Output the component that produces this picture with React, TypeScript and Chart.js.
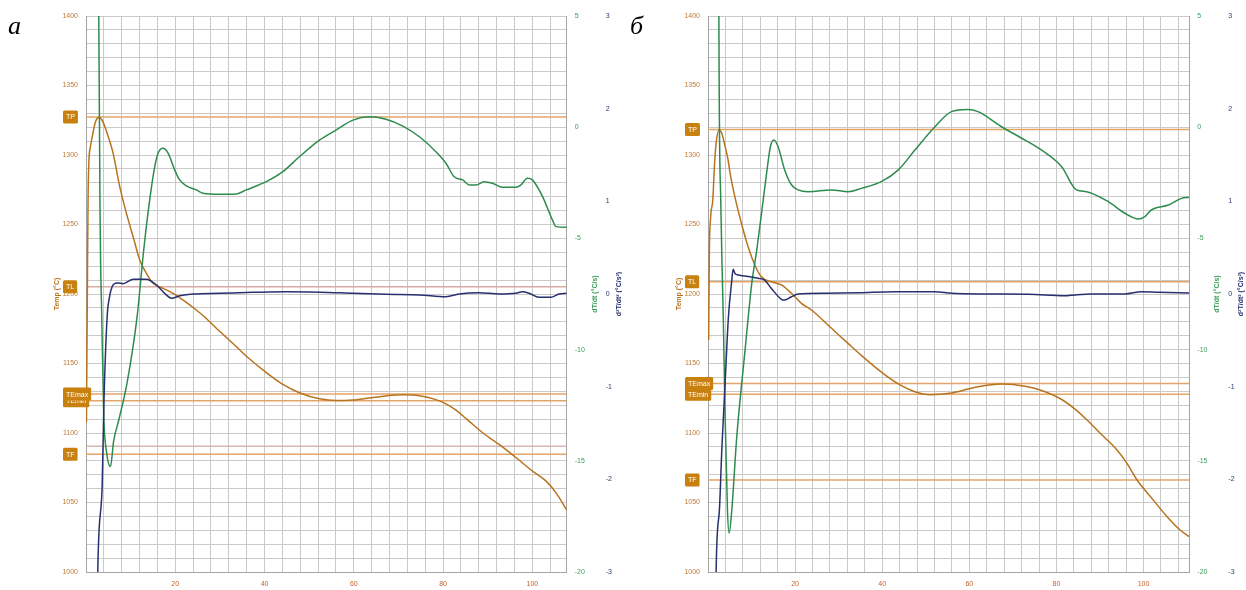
import React, { useEffect, useRef } from 'react';
import { Chart, registerables } from 'chart.js';

Chart.register(...registerables);

// ---------------- Panel "а" data ----------------
const A_TEMP_T = [0.1, 0.3, 0.45, 0.63, 1.0, 1.39, 2.13, 2.86, 3.62, 4.74, 6.08, 7.56, 9.06, 10.56, 12.04, 13.53, 15.03, 17.27, 19.5, 21.7, 24.7, 26.2, 30.0, 33.7, 36.0, 40.4, 44.1, 47.8, 52.3, 56.0, 59.8, 63.5, 67.2, 71.0, 74.7, 78.4, 80.65, 82.5, 85.3, 89.0, 92.7, 96.1, 100.2, 103.2, 105.4, 107.7];
const A_TEMP = [1108, 1200, 1265, 1294, 1306, 1313, 1324, 1327, 1325, 1315.6, 1301.2, 1277.2, 1258, 1241.2, 1224.5, 1214.9, 1207.7, 1204.1, 1200.5, 1195.7, 1188.5, 1184.5, 1173, 1162, 1155, 1143.5, 1135, 1129, 1124.6, 1123.3, 1123.7, 1125.2, 1126.7, 1127.5, 1126.8, 1124, 1121, 1117.3, 1110, 1099.8, 1091.4, 1082.9, 1072.2, 1065, 1056.6, 1044.6];
const A_DT_T = [2.6, 2.86, 3.24, 3.5, 3.98, 4.6, 5.48, 6.2, 7.3, 9.2, 11.45, 12.93, 14.27, 15.39, 16.15, 17.27, 18.39, 19.87, 20.98, 22.48, 24.72, 26.2, 29.93, 33.67, 35.9, 40.38, 44.1, 47.8, 52.3, 56.0, 59.8, 63.5, 67.2, 71.0, 74.7, 78.4, 80.65, 82.5, 84.4, 85.9, 87.4, 89.2, 91.1, 93.3, 96.3, 97.4, 98.9, 100.0, 102.3, 104.5, 105.3, 107.7];
const A_DT = [30, 5, -5.5, -8.2, -13.0, -14.6, -15.26, -14.1, -13.2, -11.5, -8.52, -5.52, -3.27, -1.78, -1.17, -0.95, -1.17, -1.92, -2.37, -2.64, -2.82, -2.97, -3.02, -3.0, -2.82, -2.45, -2.0, -1.33, -0.58, -0.13, 0.32, 0.47, 0.36, 0.05, -0.43, -1.1, -1.62, -2.23, -2.37, -2.6, -2.6, -2.45, -2.52, -2.7, -2.7, -2.6, -2.3, -2.37, -3.12, -4.17, -4.47, -4.5];
const A_D2_T = [2.0, 2.64, 3.62, 4.0, 4.74, 5.2, 5.86, 6.6, 7.2, 8.3, 10.6, 13.5, 15.8, 18.0, 19.1, 21.0, 24.0, 29.9, 37.4, 44.9, 52.3, 59.8, 67.2, 74.7, 80.65, 83.6, 88.1, 92.6, 96.3, 97.8, 99.3, 101.5, 104.1, 106.0, 107.7];
const A_D2 = [-6, -2.98, -2.08, -1.2, -0.245, -0.05, 0.08, 0.116, 0.12, 0.11, 0.16, 0.16, 0.097, -0.01, -0.046, -0.02, 0, 0.008, 0.018, 0.025, 0.02, 0.008, -0.003, -0.01, -0.03, 0, 0.014, 0, 0.008, 0.025, 0.008, -0.035, -0.035, 0, 0.008];
const A_REF_LABELS = ['TP', 'TL', 'TEmin', 'TEmax', 'TF'];
const A_REF_VALUES = [1327.3, 1205.3, 1123.2, 1128.0, 1084.7];
const A_AUX_VALUES = [1090.6];

// ---------------- Panel "б" data ----------------
const B_TEMP_T = [0.15, 0.3, 0.6, 1.1, 1.47, 1.86, 2.55, 3.17, 3.93, 4.62, 5.08, 6.16, 7.67, 9.21, 10.75, 12.26, 14.56, 16.86, 19.15, 21.45, 23.75, 28.3, 32.2, 35.2, 39.8, 43.7, 47.5, 51.0, 55.9, 59.7, 62.0, 67.4, 72.8, 76.6, 81.2, 84.6, 86.9, 90.05, 93.9, 96.2, 98.5, 101.6, 105.4, 108.4, 110.5];
const B_TEMP = [1167, 1228, 1255, 1267.6, 1291.6, 1308.4, 1318, 1315.6, 1306, 1296.4, 1286.8, 1270, 1250.9, 1234, 1220.9, 1212.4, 1208.8, 1206.5, 1200.5, 1193.3, 1188.5, 1175.5, 1164.3, 1155.8, 1143.8, 1135.3, 1129.7, 1127.6, 1128.8, 1131.6, 1133.3, 1135.2, 1133.7, 1130.6, 1124.1, 1116.3, 1109.7, 1099.8, 1087.8, 1078.2, 1066.2, 1054.2, 1039.8, 1030.2, 1025.4];
const B_DT_T = [2.35, 2.5, 2.9, 3.2, 3.5, 3.93, 4.46, 4.85, 5.47, 6.61, 8.52, 10.06, 11.2, 12.4, 13.5, 14.3, 15.1, 16.1, 17.6, 19.2, 20.7, 23.0, 28.3, 32.2, 35.2, 39.8, 43.7, 47.5, 52.1, 55.9, 59.7, 62.0, 67.4, 72.8, 76.6, 81.2, 84.6, 86.9, 91.9, 95.7, 98.8, 100.3, 101.8, 105.7, 108.7, 110.5];
const B_DT = [30, 5, -3, -6, -8.5, -13, -17.2, -18.25, -17.2, -13.9, -10.0, -7.0, -5.52, -3.7, -2.0, -0.9, -0.58, -0.88, -1.92, -2.6, -2.82, -2.9, -2.82, -2.9, -2.75, -2.45, -1.92, -1.03, 0.02, 0.7, 0.8, 0.7, 0.02, -0.58, -1.03, -1.78, -2.82, -2.9, -3.35, -3.87, -4.13, -4.02, -3.72, -3.5, -3.2, -3.15];
const B_D2_T = [1.5, 1.86, 2.62, 3.17, 3.93, 4.69, 5.47, 5.77, 6.2, 6.91, 9.21, 11.5, 13.0, 14.56, 16.86, 17.6, 19.15, 20.7, 26.8, 34.5, 42.9, 52.1, 55.9, 63.6, 73.5, 81.9, 84.2, 88.1, 95.7, 99.5, 103.4, 110.5];
const B_D2 = [-5, -3, -2.33, -1.68, -0.96, -0.245, 0.15, 0.267, 0.22, 0.205, 0.19, 0.17, 0.15, 0.06, -0.057, -0.065, -0.03, 0, 0.008, 0.014, 0.025, 0.025, 0.008, 0, -0.003, -0.02, -0.01, 0, 0, 0.025, 0.018, 0.01];
const B_REF_LABELS = ['TP', 'TL', 'TEmin', 'TEmax', 'TF'];
const B_REF_VALUES = [1318.3, 1208.9, 1127.8, 1135.7, 1066.2];
const B_AUX_VALUES: number[] = [];

// ---------------- Axis settings ----------------
const TEMP_MIN = 1000, TEMP_MAX = 1400, TEMP_GRID = 10, TEMP_LABEL_EVERY = 50;
const DT_MIN = -20, DT_MAX = 5, DT_STEP = 5;
const D2_MIN = -3, D2_MAX = 3, D2_STEP = 1;
const X_GRID = 4, X_LABEL_EVERY = 20;
const TITLE_TEMP = 'Temp (°C)';
const TITLE_DT = 'dT/dt (°C/s)';
const TITLE_D2 = 'd²T/dt² (°C/s²)';

// ---------------- Styles ----------------
const FONT = "'Liberation Sans', Arial, sans-serif";
const C_TEMP = '#b8731f';
const C_DT = '#2e8b4f';
const C_D2 = '#27306e';
const C_REF = '#e3a568';
const C_PINK = '#d8aca6';
const C_BADGE = '#c8800e';
const C_GRID = '#cacaca';
const C_BORDER = '#a4a4a4';
const C_TEMP_TICK = '#bf7a36';
const C_X_TICK = '#c0632e';
const C_DT_TICK = '#3a9e58';
const C_D2_TICK = '#2a3a6e';

type PanelCfg = {
  letter: string;
  left: number;
  width: number;
  xMax: number;
  y2Width: number;
  tempT: number[]; temp: number[];
  dtT: number[]; dt: number[];
  d2T: number[]; d2: number[];
  refLabels: string[]; refValues: number[]; refColors: string[];
  aux: number[];
};

const PANELS: PanelCfg[] = [
  {
    letter: 'а', left: 0, width: 622, xMax: 107.7, y2Width: 24.3,
    tempT: A_TEMP_T, temp: A_TEMP, dtT: A_DT_T, dt: A_DT, d2T: A_D2_T, d2: A_D2,
    refLabels: A_REF_LABELS, refValues: A_REF_VALUES,
    refColors: [C_REF, C_PINK, C_REF, C_REF, C_REF],
    aux: A_AUX_VALUES,
  },
  {
    letter: 'б', left: 622, width: 624, xMax: 110.5, y2Width: 25.7,
    tempT: B_TEMP_T, temp: B_TEMP, dtT: B_DT_T, dt: B_DT, d2T: B_D2_T, d2: B_D2,
    refLabels: B_REF_LABELS, refValues: B_REF_VALUES,
    refColors: [C_REF, C_REF, C_REF, C_REF, C_REF],
    aux: B_AUX_VALUES,
  },
];

const zip = (xs: number[], ys: number[]) => xs.map((x, i) => ({ x, y: ys[i] }));

function Panel({ cfg }: { cfg: PanelCfg }) {
  const ref = useRef<HTMLCanvasElement | null>(null);

  useEffect(() => {
    const canvas = ref.current;
    if (!canvas) return;

    const curve = (data: any[], color: string, axis: string, order: number) => ({
      data,
      borderColor: color,
      backgroundColor: color,
      borderWidth: 1.5,
      pointRadius: 0,
      pointHoverRadius: 0,
      fill: false,
      yAxisID: axis,
      cubicInterpolationMode: 'monotone',
      order,
    });

    const datasets: any[] = [];
    cfg.aux.forEach((v) => {
      datasets.push({ ...curve([{ x: 0, y: v }, { x: cfg.xMax, y: v }], C_PINK, 'y', 11), borderWidth: 1, cubicInterpolationMode: 'default', tension: 0 });
    });
    cfg.refValues.forEach((v, i) => {
      datasets.push({ ...curve([{ x: 0, y: v }, { x: cfg.xMax, y: v }], cfg.refColors[i], 'y', 10), cubicInterpolationMode: 'default', tension: 0 });
    });
    datasets.push(curve(zip(cfg.tempT, cfg.temp), C_TEMP, 'y', 2));
    datasets.push(curve(zip(cfg.dtT, cfg.dt), C_DT, 'y1', 1));
    datasets.push(curve(zip(cfg.d2T, cfg.d2), C_D2, 'y2', 0));

    const overlay = {
      id: 'overlay',
      afterDraw(chart: any) {
        const { ctx, chartArea, scales } = chart;
        const yS = scales.y;
        const midY = (chartArea.top + chartArea.bottom) / 2;
        ctx.save();
        // badges
        ctx.font = `7px ${FONT}`;
        ctx.textBaseline = 'middle';
        ctx.textAlign = 'center';
        cfg.refLabels.forEach((lab: string, i: number) => {
          const yv = yS.getPixelForValue(cfg.refValues[i]);
          const w = ctx.measureText(lab).width + 6;
          const h = 13;
          const x0 = chartArea.left - 23;
          const y0 = yv - h / 2;
          ctx.fillStyle = C_BADGE;
          ctx.beginPath();
          const r = 1.5;
          ctx.moveTo(x0 + r, y0);
          ctx.lineTo(x0 + w - r, y0);
          ctx.quadraticCurveTo(x0 + w, y0, x0 + w, y0 + r);
          ctx.lineTo(x0 + w, y0 + h - r);
          ctx.quadraticCurveTo(x0 + w, y0 + h, x0 + w - r, y0 + h);
          ctx.lineTo(x0 + r, y0 + h);
          ctx.quadraticCurveTo(x0, y0 + h, x0, y0 + h - r);
          ctx.lineTo(x0, y0 + r);
          ctx.quadraticCurveTo(x0, y0, x0 + r, y0);
          ctx.closePath();
          ctx.fill();
          ctx.fillStyle = '#ffffff';
          ctx.fillText(lab, x0 + w / 2, yv + 0.5);
        });
        // axis titles
        const vtext = (txt: string, x: number, color: string) => {
          ctx.save();
          ctx.translate(x, midY);
          ctx.rotate(-Math.PI / 2);
          ctx.font = `bold 7px ${FONT}`;
          ctx.fillStyle = color;
          ctx.textAlign = 'center';
          ctx.textBaseline = 'middle';
          ctx.fillText(txt, 0, 0);
          ctx.restore();
        };
        vtext(TITLE_TEMP, chartArea.left - 29, C_TEMP);
        vtext(TITLE_DT, chartArea.right + 28, C_DT_TICK);
        vtext(TITLE_D2, chartArea.right + 52, C_D2);
        ctx.restore();
      },
    };

    const tickFont = { family: FONT, size: 7 };

    const chart = new Chart(canvas, {
      type: 'line',
      data: { datasets },
      options: {
        responsive: false,
        animation: false,
        devicePixelRatio: 1,
        events: [],
        layout: { padding: { top: 16, left: 0, right: 0, bottom: 0 } },
        plugins: { legend: { display: false }, tooltip: { enabled: false }, title: { display: false } },
        scales: {
          x: {
            type: 'linear',
            min: 0,
            max: cfg.xMax,
            afterFit: (s: any) => { s.height = 18; },
            ticks: {
              stepSize: X_GRID,
              includeBounds: false,
              autoSkip: false,
              maxRotation: 0,
              padding: 8,
              color: C_X_TICK,
              font: tickFont,
              callback: (v: any) => (Number(v) > 0 && Number(v) % X_LABEL_EVERY === 0 ? String(v) : ''),
            },
            grid: { color: C_GRID, lineWidth: 1, drawTicks: false },
            border: { color: C_BORDER },
          },
          y: {
            type: 'linear',
            position: 'left',
            min: TEMP_MIN,
            max: TEMP_MAX,
            afterFit: (s: any) => { s.width = 86; },
            ticks: {
              stepSize: TEMP_GRID,
              autoSkip: false,
              padding: 8,
              color: C_TEMP_TICK,
              font: tickFont,
              callback: (v: any) => (Number(v) % TEMP_LABEL_EVERY === 0 ? String(v) : ''),
            },
            grid: { color: C_GRID, lineWidth: 1, drawTicks: false },
            border: { color: C_BORDER },
          },
          y1: {
            type: 'linear',
            position: 'right',
            min: DT_MIN,
            max: DT_MAX,
            afterFit: (s: any) => { s.width = 31; },
            ticks: { stepSize: DT_STEP, autoSkip: false, padding: 8, color: C_DT_TICK, font: tickFont },
            grid: { display: false, drawTicks: false },
            border: { display: true, color: C_BORDER },
          },
          y2: {
            type: 'linear',
            position: 'right',
            min: D2_MIN,
            max: D2_MAX,
            afterFit: (s: any) => { s.width = cfg.y2Width; },
            ticks: { stepSize: D2_STEP, autoSkip: false, padding: 8, color: C_D2_TICK, font: tickFont },
            grid: { display: false, drawTicks: false },
            border: { display: false },
          },
        },
      } as any,
      plugins: [overlay],
    } as any);

    return () => chart.destroy();
  }, [cfg]);

  return (
    <div style={{ position: 'absolute', left: cfg.left, top: 0, width: cfg.width, height: 590 }}>
      <canvas ref={ref} width={cfg.width} height={590} style={{ position: 'absolute', left: 0, top: 0, width: cfg.width, height: 590 }} />
      <div
        style={{
          position: 'absolute',
          left: 8,
          top: 13,
          fontFamily: "'Liberation Serif', 'Times New Roman', serif",
          fontStyle: 'italic',
          fontSize: 26,
          lineHeight: '26px',
          color: '#000',
        }}
      >
        {cfg.letter}
      </div>
    </div>
  );
}

export default function App() {
  return (
    <div style={{ position: 'fixed', left: 0, top: 0, width: 1246, height: 590, background: '#ffffff', overflow: 'hidden' }}>
      {PANELS.map((p) => (
        <Panel key={p.letter} cfg={p} />
      ))}
    </div>
  );
}
